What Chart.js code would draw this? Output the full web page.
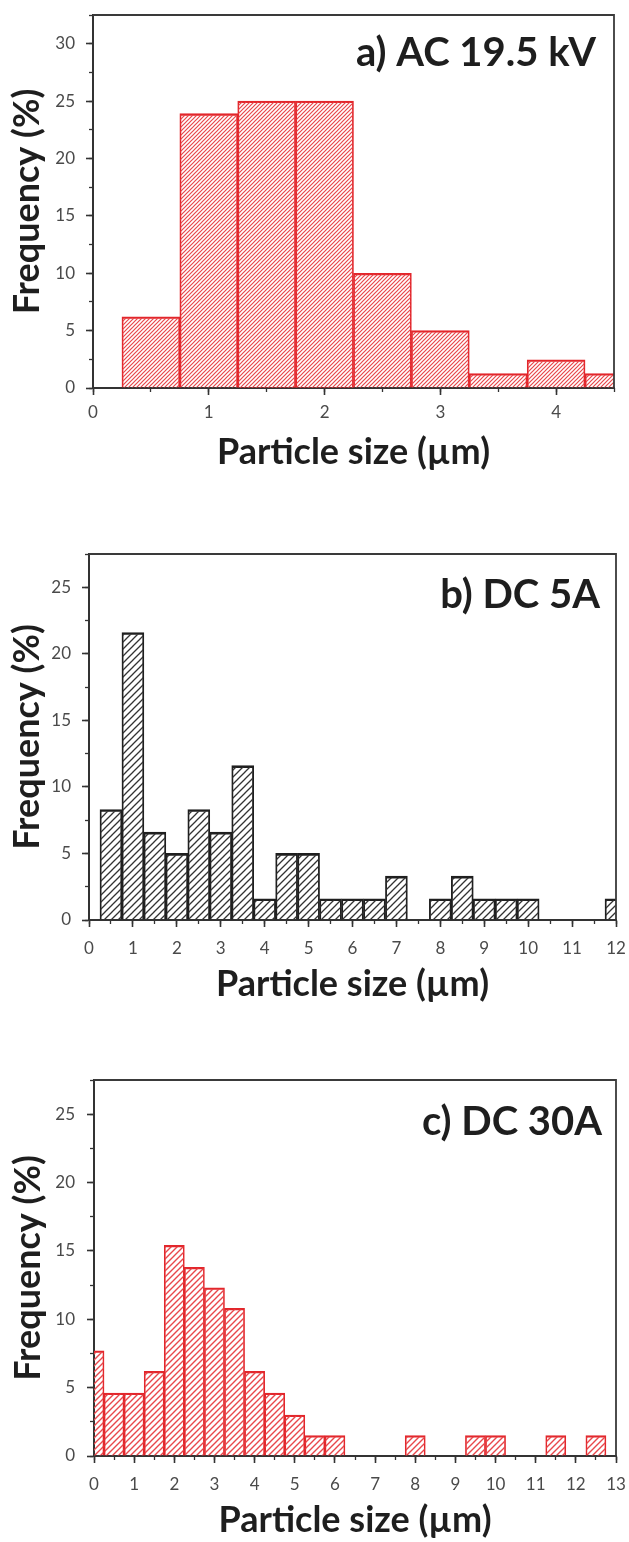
<!DOCTYPE html>
<html>
<head>
<meta charset="utf-8">
<script src="https://cdn.jsdelivr.net/npm/chart.js@4.4.0/dist/chart.umd.min.js"></script>
<style>
  html, body { margin: 0; padding: 0; background: #ffffff; }
  body { width: 629px; height: 1542px; position: relative; overflow: hidden; }
  canvas { position: absolute; left: 0; display: block; }
</style>
</head>
<body>
<canvas id="chartA" width="629" height="500" style="top:0px"></canvas>
<canvas id="chartB" width="629" height="500" style="top:520px"></canvas>
<canvas id="chartC" width="629" height="502" style="top:1040px"></canvas>
<script>
// ---------- data (bin centres in µm, frequency in %) ----------
const binsA = [0.5, 1.0, 1.5, 2.0, 2.5, 3.0, 3.5, 4.0, 4.5];
const freqA = [6.2, 23.9, 25.0, 25.0, 10.0, 5.0, 1.25, 2.45, 1.25];

const binsB = [0.5, 1.0, 1.5, 2.0, 2.5, 3.0, 3.5, 4.0, 4.5, 5.0, 5.5, 6.0,
               6.5, 7.0, 7.5, 8.0, 8.5, 9.0, 9.5, 10.0, 10.5, 11.0, 11.5, 12.0];
const freqB = [8.3, 21.6, 6.6, 5.0, 8.3, 6.6, 11.6, 1.6, 5.0, 5.0, 1.6, 1.6,
               1.6, 3.3, 0, 1.6, 3.3, 1.6, 1.6, 1.6, 0, 0, 0, 1.6];

const binsC = [0.0, 0.5, 1.0, 1.5, 2.0, 2.5, 3.0, 3.5, 4.0, 4.5, 5.0, 5.5, 6.0,
               6.5, 7.0, 7.5, 8.0, 8.5, 9.0, 9.5, 10.0, 10.5, 11.0, 11.5, 12.0, 12.5];
const freqC = [7.7, 4.6, 4.6, 6.2, 15.4, 13.8, 12.3, 10.8, 6.2, 4.6, 3.0, 1.5, 1.5,
               0, 0, 0, 1.5, 0, 0, 1.5, 1.5, 0, 0, 1.5, 0, 1.5];

const panelTitles = ['a) AC 19.5 kV', 'b) DC 5A', 'c) DC 30A'];
const xTitle = 'Particle size (µm)';
const yTitle = 'Frequency (%)';

// ---------- helpers ----------
const FONT = 'Lato, "Open Sans", "DejaVu Sans", sans-serif';

function hatch(color, spacing, lw) {
  const c = document.createElement('canvas');
  c.width = spacing; c.height = spacing;
  const g = c.getContext('2d');
  g.strokeStyle = color;
  g.lineWidth = lw;
  g.beginPath();
  g.moveTo(-1, spacing + 1); g.lineTo(spacing + 1, -1);
  g.moveTo(-2, 2); g.lineTo(2, -2);
  g.moveTo(spacing - 2, spacing + 2); g.lineTo(spacing + 2, spacing - 2);
  g.stroke();
  return g.createPattern(c, 'repeat');
}

const panelLabel = {
  id: 'panelLabel',
  afterDraw(chart, args, o) {
    const { ctx, chartArea: a } = chart;
    ctx.save();
    ctx.font = 'bold ' + o.size + 'px ' + FONT;
    ctx.fillStyle = '#1e1e1e';
    ctx.textAlign = 'right';
    ctx.textBaseline = 'middle';
    ctx.fillText(o.text, a.right - o.dx, a.top + o.dy);
    ctx.restore();
  }
};

const frame = {
  id: 'frame',
  afterDraw(chart) {
    const { ctx, chartArea: a } = chart;
    ctx.save();
    ctx.strokeStyle = '#3a3a3a';
    ctx.lineWidth = 1.8;
    ctx.beginPath();
    ctx.moveTo(a.left, a.top);
    ctx.lineTo(a.right, a.top);
    ctx.lineTo(a.right, a.bottom);
    ctx.stroke();
    ctx.restore();
  }
};

function build(id, bins, freq, p) {
  const pts = bins.map((b, i) => ({ x: b, y: freq[i] }));
  const tickFont = { family: FONT, size: 17 };
  const titleFont = { family: FONT, size: 36, weight: 'bold' };
  return new Chart(document.getElementById(id), {
    type: 'bar',
    data: {
      datasets: [{
        data: pts,
        xAxisID: 'x',
        yAxisID: 'y',
        backgroundColor: p.fill,
        borderColor: p.edge,
        borderWidth: p.edgeW,
        borderSkipped: false,
        barPercentage: 1.0,
        categoryPercentage: 1.0,
        clip: 0
      }]
    },
    options: {
      responsive: false,
      animation: false,
      events: [],
      layout: { padding: p.pad },
      plugins: {
        legend: { display: false },
        tooltip: { enabled: false },
        panelLabel: p.label
      },
      scales: {
        x: {
          type: 'linear', position: 'bottom', weight: 1, z: 1,
          min: 0, max: p.xMax, offset: false,
          ticks: { stepSize: 1, includeBounds: false, autoSkip: false, maxRotation: 0,
                   padding: p.xTickPad, color: '#4a4a4a', font: tickFont },
          grid: { display: true, drawOnChartArea: false, drawTicks: true, offset: false,
                  tickLength: 7, tickColor: '#333', tickWidth: 1.6 },
          border: { display: true, color: '#333', width: 2 },
          title: { display: true, text: xTitle, color: '#1e1e1e', font: titleFont,
                   padding: { top: 0, bottom: p.xTitlePad } },
          afterFit: s => { s.height = p.xH; s.paddingLeft = 0; s.paddingRight = 0; }
        },
        xm: {
          type: 'linear', position: 'bottom', weight: 0, z: 1,
          min: 0, max: p.xMax, offset: false,
          ticks: { display: false, stepSize: 0.5, includeBounds: false, autoSkip: false },
          grid: { display: true, drawOnChartArea: false, drawTicks: true, offset: false,
                  tickLength: 4, tickColor: '#333', tickWidth: 1.3 },
          border: { display: false },
          afterFit: s => { s.height = 0; s.paddingLeft = 0; s.paddingRight = 0; }
        },
        y: {
          type: 'linear', position: 'left', weight: 1, z: 1,
          min: 0, max: p.yMax,
          ticks: { stepSize: 5, includeBounds: false, padding: p.yTickPad,
                   color: '#4a4a4a', font: tickFont },
          grid: { display: true, drawOnChartArea: false, drawTicks: true,
                  tickLength: 7, tickColor: '#333', tickWidth: 1.6 },
          border: { display: true, color: '#333', width: 2 },
          title: { display: true, text: yTitle, color: '#1e1e1e', font: titleFont,
                   padding: { top: p.yTitlePad, bottom: 0 } },
          afterFit: s => { s.width = p.yW; s.paddingTop = 0; s.paddingBottom = 0; }
        },
        ym: {
          type: 'linear', position: 'left', weight: 0, z: 1,
          min: 0, max: p.yMax,
          ticks: { display: false, stepSize: 2.5, includeBounds: false },
          grid: { display: true, drawOnChartArea: false, drawTicks: true,
                  tickLength: 4, tickColor: '#333', tickWidth: 1.3 },
          border: { display: false },
          afterFit: s => { s.width = 0; s.paddingTop = 0; s.paddingBottom = 0; }
        }
      }
    },
    plugins: [panelLabel, frame]
  });
}

const red = '#e2262b';
const redHatch = '#e8474b';

build('chartA', binsA, freqA, {
  xMax: 4.5, yMax: 32.5,
  pad: { top: 15, right: 15, left: 0, bottom: 0 },
  yW: 93, xH: 112,
  xTickPad: 7, yTickPad: 11, xTitlePad: 26, yTitlePad: 6,
  fill: hatch(redHatch, 4, 1.2), edge: red,
  edgeW: { top: 1.6, left: 1.1, right: 1.1, bottom: 0 },
  label: { text: panelTitles[0], size: 40, dx: 18, dy: 38 }
});

build('chartB', binsB, freqB, {
  xMax: 12, yMax: 27.5,
  pad: { top: 34, right: 13, left: 0, bottom: 0 },
  yW: 89, xH: 100,
  xTickPad: 11, yTickPad: 11, xTitlePad: 14, yTitlePad: 6,
  fill: hatch('#333333', 7, 1.3), edge: '#1f1f1f',
  edgeW: { top: 2, left: 1.2, right: 1.2, bottom: 0 },
  label: { text: panelTitles[1], size: 40, dx: 16, dy: 41 }
});

build('chartC', binsC, freqC, {
  xMax: 13, yMax: 27.5,
  pad: { top: 40, right: 13, left: 0, bottom: 0 },
  yW: 94, xH: 86,
  xTickPad: 11, yTickPad: 12, xTitlePad: 0, yTitlePad: 7,
  fill: hatch(redHatch, 6, 1.4), edge: red,
  edgeW: { top: 1.6, left: 1.0, right: 1.0, bottom: 0 },
  label: { text: panelTitles[2], size: 40, dx: 14, dy: 42 }
});
</script>
</body>
</html>
